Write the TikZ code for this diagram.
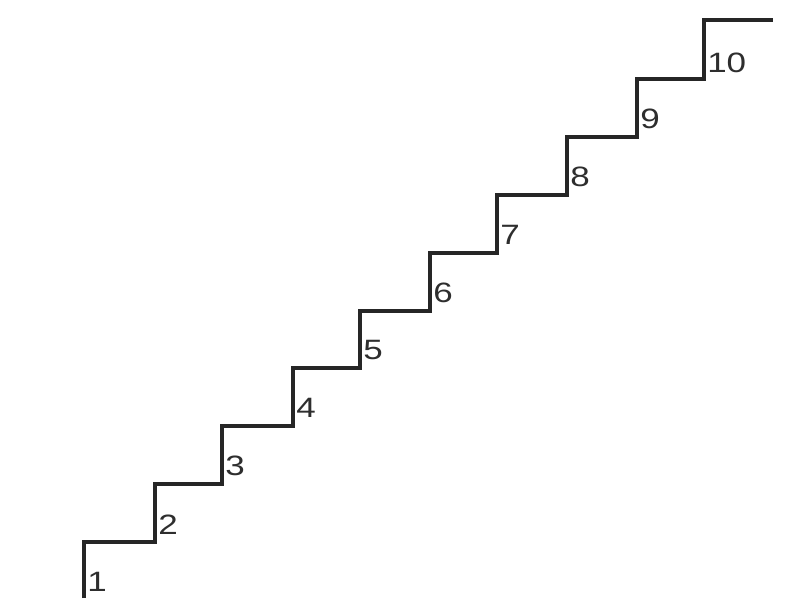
\documentclass[tikz,border=0pt]{standalone}
\usepackage{fontspec}
\setmainfont{Liberation Sans}
\begin{document}
\begin{tikzpicture}[x=1pt,y=-1pt,
  stair/.style={line width=3.2pt,draw=black!85,line join=miter,line cap=butt},
  num/.style={anchor=base west,inner sep=0pt,font=\fontsize{28}{28}\selectfont,text=black!82,xscale=1.25}]
\useasboundingbox[fill=white] (0,0) rectangle (793,609);
\coordinate (s0) at (84,598);
\coordinate (t1) at (84,542);
\coordinate (t2) at (155,484);
\coordinate (t3) at (222,426);
\coordinate (t4) at (293,368);
\coordinate (t5) at (360,311);
\coordinate (t6) at (430,253);
\coordinate (t7) at (497,195);
\coordinate (t8) at (567,137);
\coordinate (t9) at (637,79);
\coordinate (t10) at (704,20);
\coordinate (e) at (773,20);
\draw[stair] (s0) -- (t1) -| (t2) -| (t3) -| (t4) -| (t5) -| (t6) -| (t7) -| (t8) -| (t9) -| (t10) -- (e);
\node[num] (n1) at (87,591) {1};
\node[num] (n2) at (158,534) {2};
\node[num] (n3) at (225,476) {3};
\node[num] (n4) at (296,418) {4};
\node[num] (n5) at (363,360) {5};
\node[num] (n6) at (433,303) {6};
\node[num] (n7) at (500,245) {7};
\node[num] (n8) at (570,187) {8};
\node[num] (n9) at (640,129) {9};
\node[num] (n10) at (707,73) {10};
\end{tikzpicture}
\end{document}
